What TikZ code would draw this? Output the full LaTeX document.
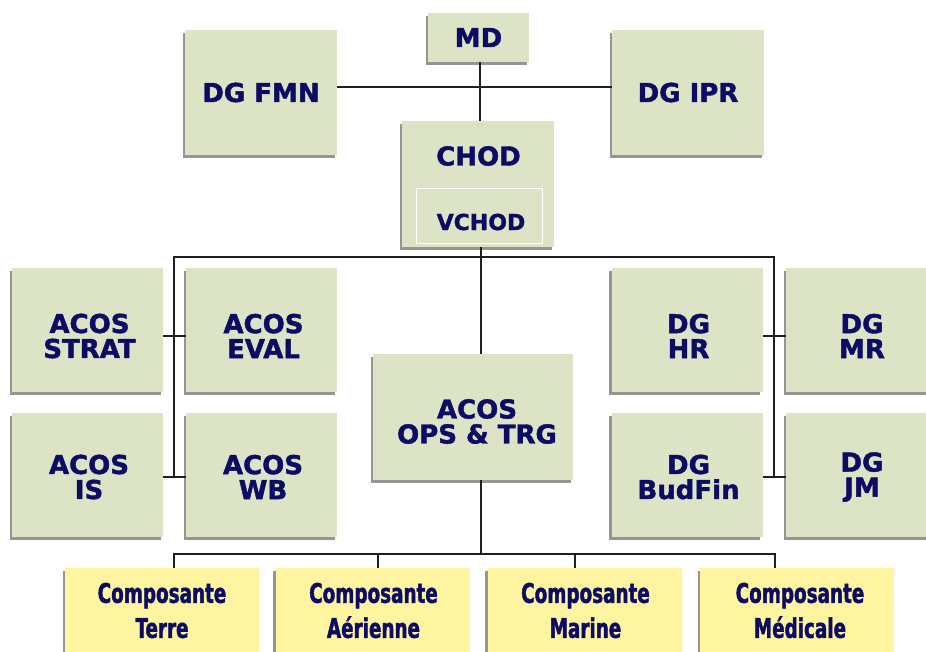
\documentclass[tikz,border=0pt]{standalone}
\usepackage{fontspec}
\setmainfont{DejaVu Sans}
\newfontfamily\heavyfont{DejaVu Sans Bold}[FakeBold=1.6]
\newfontfamily\compfont{DejaVu Sans Bold}[FakeStretch=0.68, FakeBold=1.6]
\usetikzlibrary{shadows}
\definecolor{boxgreen}{RGB}{221,228,198}
\definecolor{boxyellow}{RGB}{255,245,160}
\definecolor{navy}{RGB}{12,12,100}
\definecolor{shadecol}{RGB}{105,105,105}
\tikzset{
  boxshadow/.style={drop shadow={shadow xshift=-2.5pt, shadow yshift=-2.5pt, fill=shadecol, opacity=0.7}},
  gbox/.style={draw=none, fill=boxgreen, inner sep=0pt, boxshadow},
  ybox/.style={draw=none, fill=boxyellow, inner sep=0pt, boxshadow},
  vbox/.style={draw=white, line width=1pt, fill=boxgreen, inner sep=0pt},
  txt/.style={text=navy, font=\heavyfont\fontsize{26}{25}\selectfont, align=center, inner sep=0pt},
  vtxt/.style={text=navy, font=\heavyfont\fontsize{22}{22}\selectfont, inner sep=0pt},
  ctxt/.style={text=navy, font=\compfont\fontsize{27}{35}\selectfont, align=center, inner sep=0pt},
  conn/.style={draw=black!88, line width=1.4pt},
  side/.style={gbox, minimum width=151, minimum height=124},
  comp/.style={ybox, minimum width=194, minimum height=100},
}
\begin{document}
\begin{tikzpicture}[x=1pt, y=-1pt]
\useasboundingbox (0,0) rectangle (926,651);
\fill[white] (0,0) rectangle (926,651);
\clip (0,0) rectangle (926,651);

% coordinates for buses
\coordinate (topbus) at (480,87);
\coordinate (bus1) at (481,257);
\coordinate (lbus) at (174,257);
\coordinate (rbus) at (774,257);
\coordinate (bbus) at (481,554);
\coordinate (d1) at (174,554);
\coordinate (d2) at (378,554);
\coordinate (d3) at (575,554);
\coordinate (d4) at (775,554);

% top level
\node[gbox, txt, minimum width=101, minimum height=49] (md) at (478.5,37.5) {MD};
\node[gbox, txt, minimum width=152, minimum height=125] (fmn) at (261,92.5) {DG FMN};
\node[gbox, txt, minimum width=152, minimum height=125] (ipr) at (688,92.5) {DG IPR};

% CHOD
\node[gbox, minimum width=152, minimum height=126] (chod) at (478,184) {};
\node[txt] (chodt) at (478.5,156) {CHOD};
\node[vbox, minimum width=126, minimum height=55] (vchod) at (479,215.5) {};
\node[vtxt] (vchodt) at (481,222) {VCHOD};

% side boxes
\node[side] (strat) at (87.5,330) {};
\node[txt] (stratt) at (89.5,336) {ACOS\\STRAT};
\node[side] (eval) at (261.5,330) {};
\node[txt] (evalt) at (263.5,336) {ACOS\\EVAL};
\node[side] (is) at (87.5,475) {};
\node[txt] (ist) at (89,477) {ACOS\\IS};
\node[side] (wb) at (261.5,475) {};
\node[txt] (wbt) at (263,477) {ACOS\\WB};
\node[side] (hr) at (687,330) {};
\node[txt] (hrt) at (688.5,336) {DG\\HR};
\node[side] (mr) at (861.5,330) {};
\node[txt] (mrt) at (862,336) {DG\\MR};
\node[side] (budfin) at (687,475) {};
\node[txt] (budfint) at (688.5,477) {DG\\BudFin};
\node[side] (jm) at (861.5,475) {};
\node[txt] (jmt) at (862,477) {DG\\JM};

% OPS
\node[gbox, minimum width=200, minimum height=126] (ops) at (473,417) {};
\node[txt] (opst) at (477,421.5) {ACOS\\OPS \& TRG};

% components
\node[comp] (terre) at (162,618) {};
\node[ctxt] (terret) at (162,610.5) {Composante\\Terre};
\node[comp] (aer) at (372.5,618) {};
\node[ctxt] (aert) at (373.5,610.5) {Composante\\Aérienne};
\node[comp] (mar) at (584.5,618) {};
\node[ctxt] (mart) at (585.5,610.5) {Composante\\Marine};
\node[comp] (med) at (797,618) {};
\node[ctxt] (medt) at (800,610.5) {Composante\\Médicale};

% connectors
\draw[conn] (fmn.east |- topbus) -- (ipr.west |- topbus);
\draw[conn] (topbus |- md.south) -- (topbus |- chod.north);
\draw[conn] (bus1 |- chod.south) -- (bus1 |- ops.north);
\draw[conn] (lbus |- ist) -- (lbus) -- (rbus) -- (rbus |- budfint);
\draw[conn] (strat.east |- stratt) -- (eval.west |- stratt);
\draw[conn] (is.east |- ist) -- (wb.west |- ist);
\draw[conn] (hr.east |- hrt) -- (mr.west |- hrt);
\draw[conn] (budfin.east |- budfint) -- (jm.west |- budfint);
\draw[conn] (bus1 |- ops.south) -- (bbus);
\draw[conn] (d1 |- terre.north) -- (d1) -- (d4) -- (d4 |- med.north);
\draw[conn] (d2) -- (d2 |- aer.north);
\draw[conn] (d3) -- (d3 |- mar.north);
\end{tikzpicture}
\end{document}
